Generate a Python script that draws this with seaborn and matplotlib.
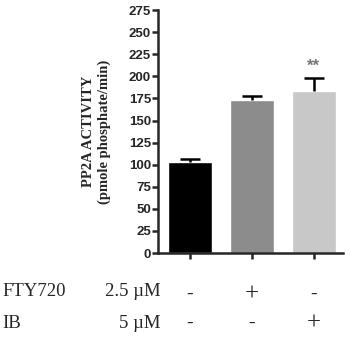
import numpy as np
import pandas as pd
import seaborn as sns
import matplotlib.pyplot as plt

groups = ['Control', 'FTY720', 'IB']
means = [103, 173, 183]
errs = [4, 5, 15]
colors = ['#000000', '#8c8c8c', '#c8c8c8']
fty_row = ['-', '+', '-']
ib_row = ['-', '-', '+']
yticks = list(range(0, 276, 25))

sns.set_style('ticks')
plt.rcParams['font.family'] = ['Liberation Sans', 'DejaVu Sans']

fig = plt.figure(figsize=(3.5, 3.37), dpi=100)
ax = fig.add_axes([0.451, 0.249, 0.529, 0.721])

df = pd.DataFrame({'group': groups, 'value': means})
sns.barplot(data=df, x='group', y='value', hue='group', palette=colors,
            width=0.71, legend=False, ax=ax, saturation=1)
eb = ax.errorbar(range(3), means, yerr=[[0, 0, 0], errs], fmt='none',
                 ecolor='black', elinewidth=1.8, capsize=7, capthick=1.8)
# hide the lower caps, only upper error shown
eb[1][0].set_visible(False)
ax.text(2, 203, '**', ha='center', va='bottom', color='#777777',
        fontsize=12, fontweight='bold')

ax.set_xlim(-0.52, 2.47)
ax.set_ylim(0, 275)
ax.set_yticks(yticks)
ax.set_yticklabels([str(t) for t in yticks], fontweight='bold', fontsize=9.5)
ax.set_xticklabels([])
ax.set_xlabel('')
ax.set_ylabel('PP2A ACTIVITY\n(pmole phosphate/min)', family='Liberation Serif',
              fontweight='bold', fontsize=10.5, labelpad=13)
ax.tick_params(width=1.8, length=4, pad=1)
sns.despine(ax=ax)
for s in ['left', 'bottom']:
    ax.spines[s].set_linewidth(1.8)

tr = ax.get_xaxis_transform()
for i, (a, b) in enumerate(zip(fty_row, ib_row)):
    for txt, yy in ((a, -0.17), (b, -0.29)):
        ax.text(i, yy, txt, transform=tr, ha='center', va='center',
                family='Liberation Serif', fontsize=18 if txt == '+' else 14)
fig.text(0.008, 1 - 291 / 337, 'FTY720', ha='left', va='center',
         family='Liberation Serif', fontsize=13.5)
fig.text(0.458, 1 - 291 / 337, '2.5 µM', ha='right', va='center',
         family='Liberation Serif', fontsize=13.5)
fig.text(0.008, 1 - 323 / 337, 'IB', ha='left', va='center',
         family='Liberation Serif', fontsize=13.5)
fig.text(0.458, 1 - 323 / 337, '5 µM', ha='right', va='center',
         family='Liberation Serif', fontsize=13.5)

fig.savefig('out.png', dpi=100)
